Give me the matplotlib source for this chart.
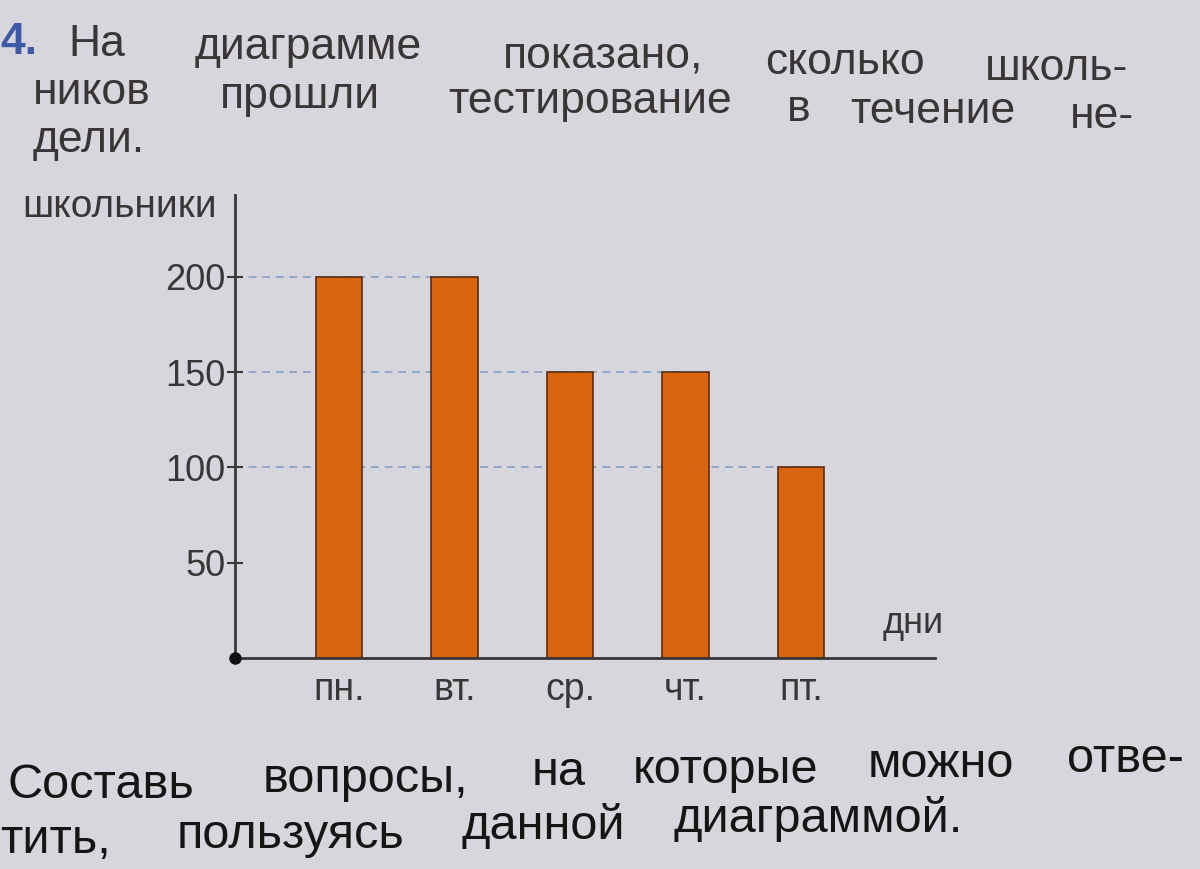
import numpy as np
import matplotlib
matplotlib.use('agg')
import matplotlib.pyplot as plt

# data
days = ['пн.', 'вт.', 'ср.', 'чт.', 'пт.']
pupils = [200, 200, 150, 150, 100]
yticks = [50, 100, 150, 200]

W, H = 1200, 869
bg = '#d7d6dc'
ink = '#3a3636'
bar_col = '#d9660f'
dash_col = '#8ea8cc'

plt.rcParams['font.family'] = ['Liberation Sans', 'DejaVu Sans']

fig = plt.figure(figsize=(W / 100, H / 100), dpi=100)
fig.patch.set_facecolor(bg)

def px(x, y):
  # pixel position -> figure fraction
  return x / W, 1 - y / H

# axes box: y axis at x=235, x axis at y=658, top of y axis at 195, end of x axis at 935
x0, x1 = -0.900, 5.16
ax = fig.add_axes([235 / W, (H - 658) / H, (935 - 235) / W, (658 - 195) / H])
ax.set_facecolor('none')
x = np.arange(len(days))
ax.set_xlim(x0, x1)
ax.set_ylim(0, 243)

# dashed guide lines from the axis to the last bar of that height
for level in np.unique(pupils):
  last = max(i for i, v in enumerate(pupils) if v >= level)
  ax.plot([x0, x[last]], [level, level], ls=(0, (4, 3)), color=dash_col, lw=1.4, zorder=1)

ax.bar(x, pupils, width=0.40, color=bar_col, edgecolor='#5a2c12', linewidth=1.2, zorder=2)

for s in ['top', 'right']:
  ax.spines[s].set_visible(False)
for s in ['left', 'bottom']:
  ax.spines[s].set_color(ink)
  ax.spines[s].set_linewidth(2)

ax.set_yticks(yticks)
ax.set_yticklabels([str(t) for t in yticks], fontsize=26, color=ink)
ax.tick_params(axis='y', direction='inout', length=12, width=1.5, color=ink, pad=1)
ax.set_xticks(x)
ax.set_xticklabels(days, fontsize=27, color=ink)
ax.tick_params(axis='x', length=0, pad=10)

ax.plot([x0], [0], 'o', color='#111111', ms=8, clip_on=False, zorder=5)

fig.text(*px(217, 217), 'школьники', fontsize=28, color=ink, ha='right', va='baseline')
fig.text(*px(883, 633), 'дни', fontsize=26, color=ink, ha='left', va='baseline')

# the page is photographed a little tilted: each text line has a start baseline and a slope
# task text above the chart (justified lines, word by word)
top_lines = [
  (54, 0.026, [(68, 'На'), (195, 'диаграмме'), (503, 'показано,'), (765, 'сколько'), (985, 'школь-')]),
  (103, 0.023, [(33, 'ников'), (220, 'прошли'), (448, 'тестирование'), (787, 'в'), (850, 'течение'), (1070, 'не-')]),
  (151, 0.023, [(33, 'дели.')]),
]
fig.text(*px(0, 54), '4.', fontsize=32, color='#3d5aa8', fontweight='bold', ha='left', va='baseline')
for y0, k, words in top_lines:
  for xw, w in words:
    fig.text(*px(xw, y0 + k * xw), w, fontsize=32, color=ink, ha='left', va='baseline')

# question text below the chart
bottom_lines = [
  (798, -0.024, [(7, 'Составь'), (263, 'вопросы,'), (532, 'на'), (633, 'которые'), (868, 'можно'), (1067, 'отве-')]),
  (853, -0.031, [(0, 'тить,'), (177, 'пользуясь'), (462, 'данной'), (673, 'диаграммой.')]),
]
for y0, k, words in bottom_lines:
  for xw, w in words:
    fig.text(*px(xw, y0 + k * xw), w, fontsize=35, color='#171414', ha='left', va='baseline')

fig.savefig('out.png', dpi=100, facecolor=bg)
